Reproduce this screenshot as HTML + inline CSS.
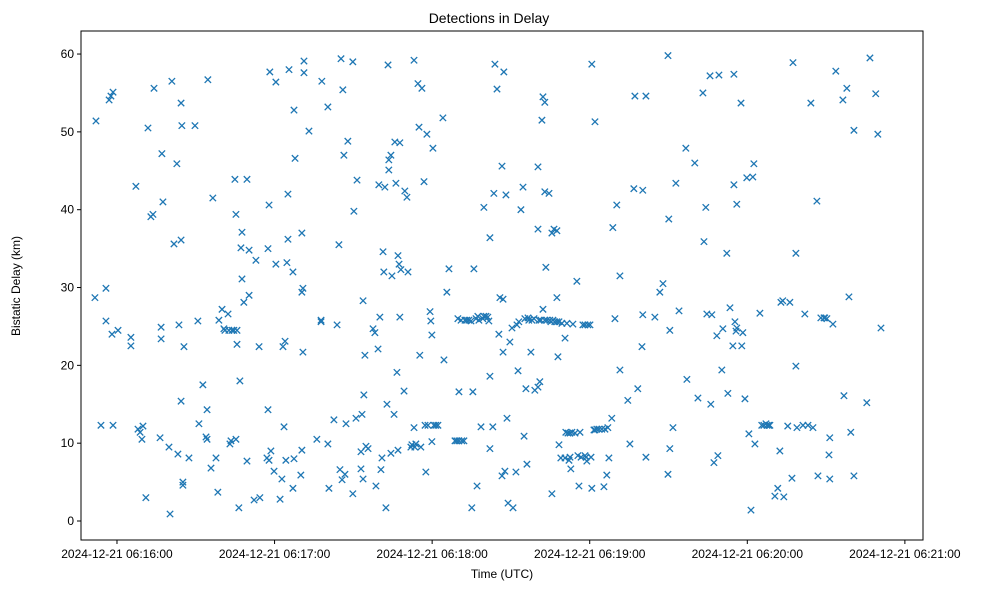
<!DOCTYPE html>
<html><head><meta charset="utf-8"><style>
html,body{margin:0;padding:0;background:#fff}
svg{display:block;font-family:"Liberation Sans","DejaVu Sans",sans-serif}
</style></head><body>
<svg id="chart" width="988" height="590">
<rect width="988" height="590" fill="#fff"/>
<text x="489" y="23" text-anchor="middle" font-size="14">Detections in Delay</text>
<g id="plot"></g>
<g id="xaxis"></g>
<g id="yaxis"></g>
<text x="502" y="578" text-anchor="middle" font-size="12">Time (UTC)</text>
<text transform="translate(20,286) rotate(-90)" text-anchor="middle" font-size="12">Bistatic Delay (km)</text>
<rect x="81" y="31" width="842" height="509" fill="none" stroke="#000" stroke-width="1"/>
</svg>
<script>
// seconds after 2024-12-21 06:16:00 UTC
const times = [-8.0,-8.4,-6.1,-4.2,-4.2,-3.0,-2.3,-1.9,-1.5,-1.5,0.4,5.3,5.3,7.2,8.0,8.8,9.5,9.9,11.0,11.8,12.9,13.7,14.1,16.4,16.8,16.8,17.1,17.5,19.8,20.2,20.9,21.7,22.8,23.2,23.6,24.4,24.4,24.4,24.7,25.1,25.1,25.5,27.4,29.7,30.8,31.2,32.7,33.9,34.3,34.3,34.6,35.8,36.5,37.7,38.4,38.8,40.0,40.7,41.1,42.3,42.6,43.0,43.4,43.8,44.5,44.9,45.3,45.3,45.7,45.7,46.4,46.8,47.2,47.6,47.6,48.3,49.5,49.5,50.3,50.3,52.2,52.9,54.1,54.4,57.1,57.5,57.5,57.9,57.9,58.2,58.6,59.8,60.5,60.5,62.1,62.8,63.2,63.6,64.0,64.3,64.7,65.1,65.1,65.5,67.0,67.0,67.4,67.4,67.8,70.0,70.4,70.4,70.4,71.2,71.2,70.8,70.8,73.1,76.1,77.7,77.7,78.0,80.3,80.3,80.7,82.6,83.8,84.5,84.9,85.3,85.7,86.0,86.4,86.8,87.2,87.9,89.8,89.8,90.2,91.0,91.4,92.9,92.9,93.3,93.7,93.7,94.0,94.4,94.8,95.6,97.5,98.2,98.6,99.4,99.7,100.1,100.5,100.9,101.3,101.6,102.0,102.4,102.8,103.2,103.5,103.5,104.3,104.3,104.7,105.5,105.8,106.2,106.6,107.0,107.0,107.4,107.7,107.7,108.1,109.3,109.6,110.4,110.8,111.9,112.3,113.1,113.1,113.4,113.8,114.6,115.0,115.3,115.7,116.1,116.9,117.3,117.6,118.0,118.4,119.2,119.5,119.9,119.9,120.3,120.7,121.4,122.2,124.1,124.5,125.6,126.4,128.7,129.4,130.2,129.8,130.2,131.0,131.3,132.1,132.5,133.2,134.0,134.8,135.1,135.5,135.9,136.7,137.1,137.4,137.8,138.6,139.3,139.7,139.7,140.5,141.2,141.6,142.0,142.0,142.0,143.1,143.5,143.9,144.7,145.4,145.8,146.6,146.6,147.0,147.0,147.3,147.7,148.1,148.5,148.9,149.6,150.4,150.8,151.9,152.3,152.7,153.0,153.8,154.6,155.0,155.3,155.7,156.1,156.5,156.8,157.6,158.0,158.8,159.1,160.3,160.3,160.3,160.7,161.0,161.4,161.8,162.2,162.2,162.9,162.9,162.9,163.3,163.7,164.5,164.8,165.2,165.6,165.6,166.0,166.4,166.7,167.5,167.5,167.5,167.9,168.3,168.3,169.0,169.4,170.6,170.6,170.9,171.3,171.7,172.1,172.5,172.5,172.8,173.2,173.6,174.4,175.1,175.5,175.9,176.3,176.7,177.4,178.2,178.2,178.6,178.9,179.3,180.1,180.5,180.8,180.8,181.6,182.0,182.0,182.7,183.5,184.6,185.4,185.8,186.5,186.9,187.3,188.4,188.8,189.6,190.3,191.5,191.5,194.5,195.3,196.8,197.2,198.3,199.9,200.2,200.2,201.4,201.4,204.8,206.7,207.9,209.8,209.8,210.1,210.5,210.5,211.7,212.8,214.0,217.0,216.6,220.0,221.2,223.1,223.5,224.2,224.6,225.8,226.1,226.5,227.3,228.4,228.8,229.2,230.3,230.7,232.2,232.6,233.4,234.5,234.9,234.9,235.3,235.7,236.0,236.0,237.6,237.9,238.3,239.1,239.8,240.6,241.4,242.1,242.5,242.9,244.8,245.5,246.3,247.1,247.5,248.2,248.6,250.5,251.6,252.4,252.8,253.5,253.9,255.4,256.2,257.0,257.4,258.5,258.5,258.9,261.2,261.9,263.1,264.2,265.0,266.5,266.9,268.0,269.2,269.5,270.3,271.1,271.4,271.4,272.6,273.7,276.4,276.8,277.9,278.7,279.4,280.6,280.6,286.7,285.5,288.9,289.7,290.9];
const delaysKm = [51.4,28.7,12.3,29.9,25.7,54.1,54.6,24.0,55.1,12.3,24.5,23.6,22.5,43.0,11.8,11.4,10.5,12.2,3.0,50.5,39.1,39.4,55.6,10.7,23.4,24.9,47.2,41.0,9.5,0.9,56.5,35.6,45.9,8.6,25.2,36.1,53.7,15.4,50.8,4.6,5.0,22.4,8.1,50.8,25.7,12.5,17.5,10.8,14.3,10.5,56.7,6.8,41.5,8.1,3.7,25.8,27.2,24.7,24.5,26.6,24.5,9.9,10.3,24.5,24.5,43.9,39.4,10.5,24.5,22.7,1.7,18.0,35.1,37.1,31.1,28.1,7.7,43.9,34.8,29.0,2.7,33.5,22.4,3.0,8.1,35.0,14.3,7.8,40.6,57.7,9.0,6.4,56.4,33.0,2.8,5.4,22.4,12.1,23.1,7.8,33.2,42.0,36.2,58.0,4.2,32.0,52.8,8.0,46.6,5.9,9.1,37.0,29.4,59.1,57.6,29.9,21.7,50.1,10.5,25.6,25.8,56.5,9.9,53.2,4.2,13.0,25.2,35.5,6.6,59.4,5.3,55.4,47.0,6.0,12.5,48.8,59.0,3.5,39.8,13.2,43.8,8.9,6.7,13.7,28.3,5.4,16.2,21.3,9.6,9.3,24.7,24.2,4.5,22.1,43.2,26.2,6.6,8.1,34.6,32.0,42.9,1.7,15.0,58.6,45.1,46.4,8.7,47.0,31.5,13.7,48.7,43.4,19.1,9.1,34.1,33.0,26.2,48.6,32.3,16.7,42.4,41.6,32.0,9.5,9.8,59.2,12.0,9.5,9.9,56.2,50.6,21.3,9.5,55.6,43.6,12.3,6.3,49.7,12.3,26.9,25.7,10.2,23.9,47.9,12.3,12.3,12.3,51.8,20.7,29.4,32.4,10.3,10.3,10.3,26.0,16.6,25.8,10.3,10.3,25.8,25.8,25.8,25.7,1.7,16.6,32.4,26.0,4.5,26.3,25.8,12.1,26.0,26.3,40.3,26.3,26.2,25.7,9.3,18.6,36.4,12.1,42.1,58.7,55.5,24.0,28.7,5.8,45.6,21.7,28.5,57.7,6.4,41.9,13.2,2.3,23.0,24.8,1.7,6.3,25.2,19.3,25.6,40.0,42.9,10.9,26.0,17.0,7.3,26.1,25.8,21.7,25.8,26.0,16.8,45.5,37.5,17.2,25.8,17.9,25.8,51.5,54.5,27.2,53.8,42.3,25.8,32.6,25.8,42.1,25.8,25.6,3.5,37.0,25.8,37.5,25.6,25.6,37.3,28.7,21.1,25.6,9.8,8.1,25.4,23.5,8.1,11.4,25.4,11.3,7.8,11.3,8.2,6.7,11.4,25.3,11.3,30.8,8.4,4.5,11.4,8.2,25.2,8.4,25.2,8.2,7.7,25.2,25.2,8.2,58.7,4.2,11.7,51.3,11.7,11.8,11.8,11.8,4.4,11.8,5.9,12.0,8.1,13.2,37.7,26.0,40.6,31.5,19.4,15.5,9.9,42.7,54.6,17.0,22.4,42.5,26.5,54.6,8.2,26.2,29.4,30.5,59.8,6.0,38.8,24.5,9.3,12.0,43.4,27.0,18.2,47.9,46.0,15.8,55.0,35.9,40.3,26.6,57.2,15.0,26.5,7.5,23.8,8.4,57.3,19.4,24.7,34.4,16.4,27.4,22.5,57.4,43.2,25.6,24.4,24.8,40.7,53.7,22.5,24.2,15.7,44.1,11.2,1.4,44.2,45.9,9.9,26.7,12.3,12.3,12.5,12.3,12.3,12.3,3.2,4.2,9.0,28.1,28.3,3.1,12.2,28.1,5.5,58.9,34.4,19.9,12.0,12.3,26.6,12.3,53.7,12.0,41.1,5.8,26.1,26.1,26.1,26.0,8.5,10.7,5.4,25.3,57.8,54.1,16.1,55.6,28.8,11.4,50.2,5.8,59.5,15.2,54.9,49.7,24.8];
const xTickSecs = [0,60,120,180,240,300];
const xTickLabels = ["2024-12-21 06:16:00","2024-12-21 06:17:00","2024-12-21 06:18:00","2024-12-21 06:19:00","2024-12-21 06:20:00","2024-12-21 06:21:00"];
const yTicks = [0,10,20,30,40,50,60];

const NS="http://www.w3.org/2000/svg";
const X0=81,X1=923,Y0=31,Y1=540;
const xMin=-13.7,xMax=306.9,yMin=-2.44,yMax=62.96;
function xs(t){return X0+(t-xMin)/(xMax-xMin)*(X1-X0);}
function ys(v){return Y1-(v-yMin)/(yMax-yMin)*(Y1-Y0);}
function mk(tag,attrs){const e=document.createElementNS(NS,tag);for(const k in attrs)e.setAttribute(k,attrs[k]);return e;}

const plot=document.getElementById('plot');
for(let i=0;i<times.length;i++){
  const cx=xs(times[i]),cy=ys(delaysKm[i]),r=3.2;
  const p=mk('path',{d:`M${cx-r},${cy-r}L${cx+r},${cy+r}M${cx-r},${cy+r}L${cx+r},${cy-r}`,stroke:'#1f77b4','stroke-width':1.3,fill:'none'});
  
  
  plot.appendChild(p);
}
const xa=document.getElementById('xaxis');
xTickSecs.forEach((s,i)=>{
  const x=xs(s);
  const l=mk('line',{x1:x,x2:x,y1:Y1,y2:Y1+4,stroke:'#000'});
  
  
  xa.appendChild(l);
  const t=mk('text',{x:x,y:Y1+18,'text-anchor':'middle','font-size':12});
  t.textContent=xTickLabels[i];
  
  
  xa.appendChild(t);
});
const ya=document.getElementById('yaxis');
yTicks.forEach(v=>{
  const y=ys(v);
  const l=mk('line',{x1:X0-4,x2:X0,y1:y,y2:y,stroke:'#000'});
  
  
  ya.appendChild(l);
  const t=mk('text',{x:X0-7,y:y+4,'text-anchor':'end','font-size':12});
  t.textContent=v;
  
  
  ya.appendChild(t);
});
</script>
</body></html>
